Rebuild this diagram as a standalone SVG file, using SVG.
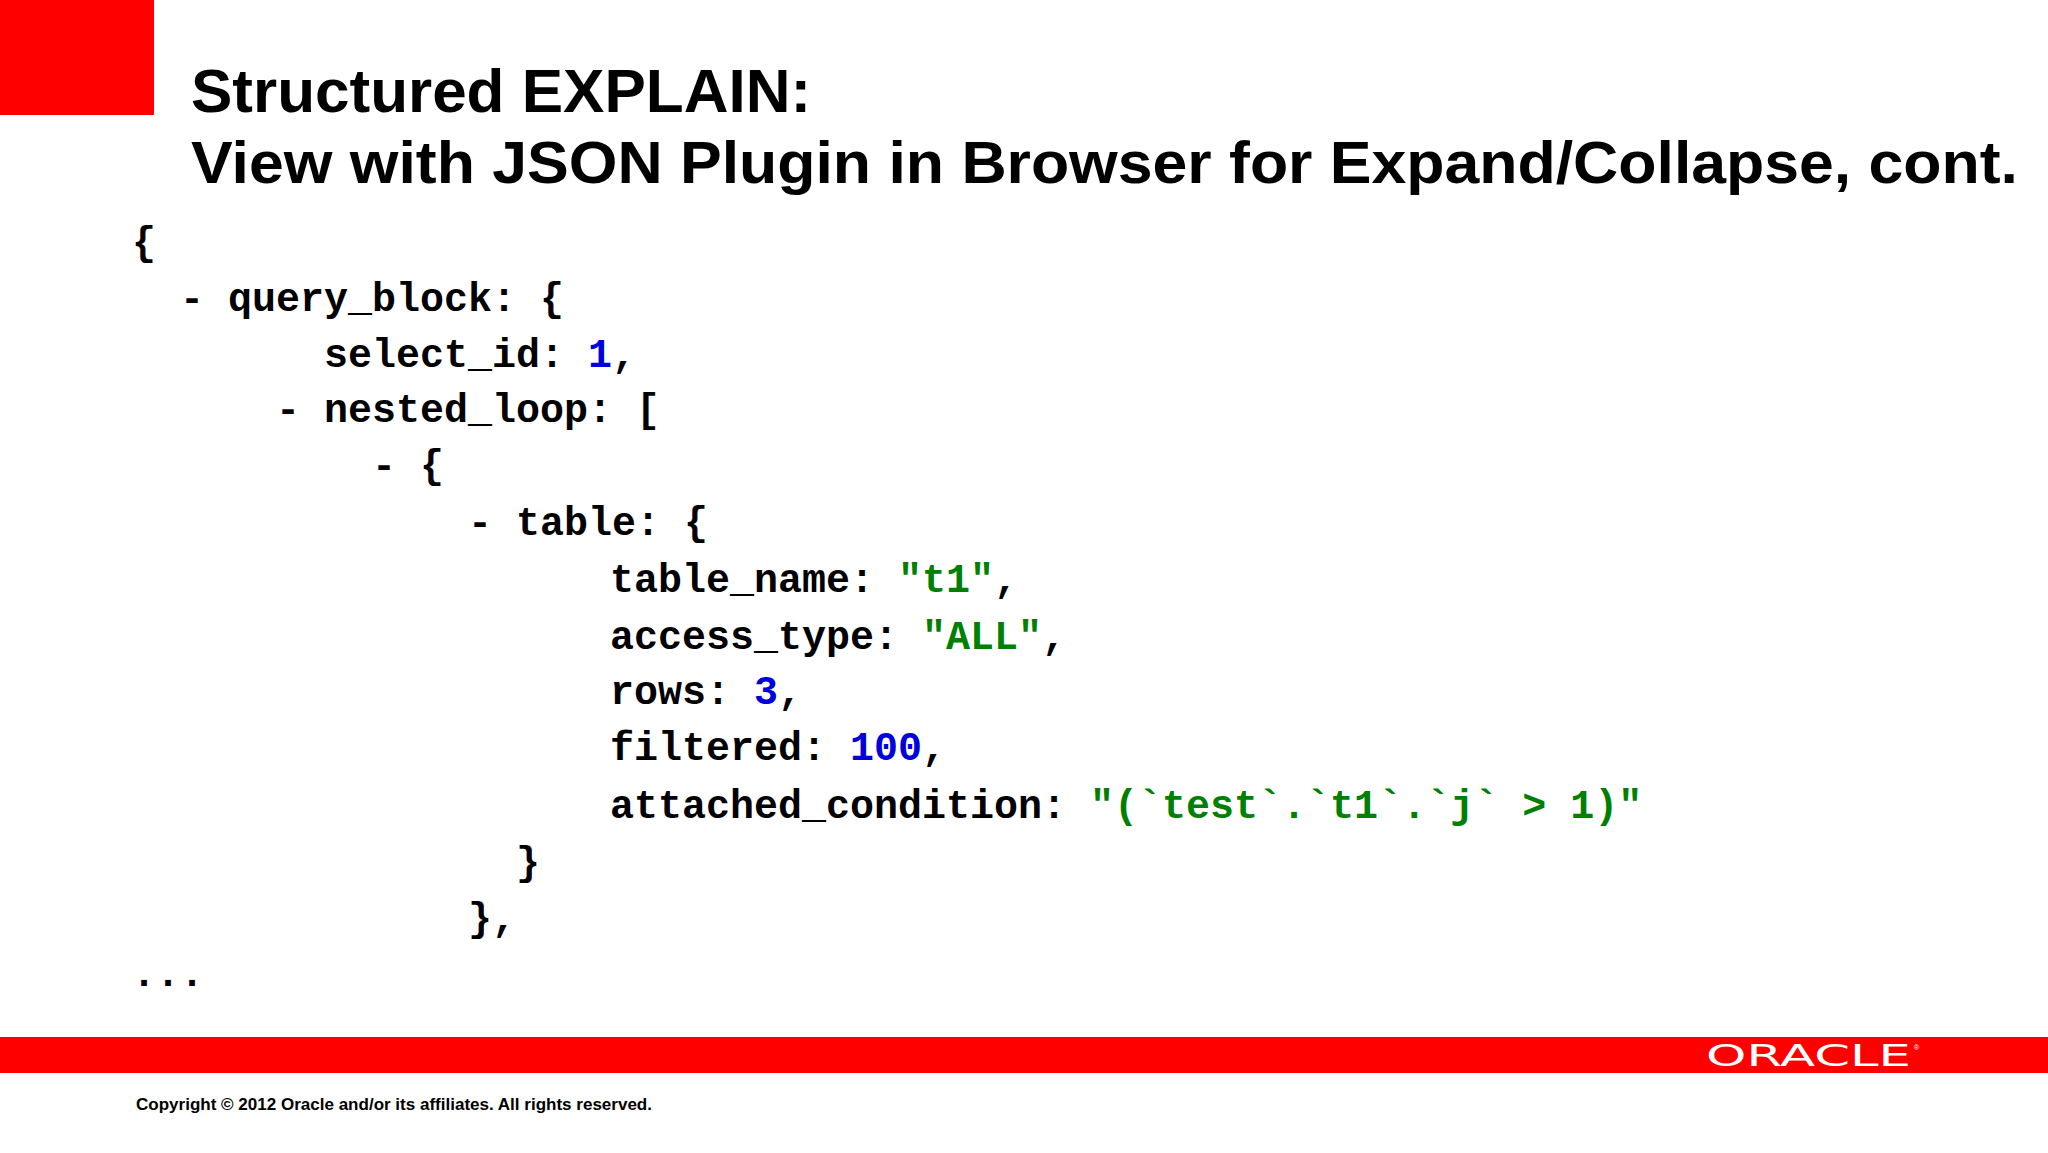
<svg xmlns="http://www.w3.org/2000/svg" width="2048" height="1153" viewBox="0 0 2048 1153">
<style>
.t{font-family:"Liberation Sans",Arial,sans-serif;font-weight:bold;fill:#000}
.c{font-family:"Liberation Mono","Courier New",monospace;font-weight:bold;font-size:40px;fill:#000}
.b{fill:#0000DD}.g{fill:#008000}
</style>
<rect width="2048" height="1153" fill="#fff"/>
<rect x="0" y="0" width="154" height="115" fill="#FF0000"/>
<g id="title">
<text class="t" x="191" y="112" font-size="62">Structured EXPLAIN:</text>
<text class="t" x="191" y="183" font-size="60" textLength="1827" lengthAdjust="spacingAndGlyphs">View with JSON Plugin in Browser for Expand/Collapse, cont.</text>
</g>
<g id="code">
<text class="c" x="132" y="255">{</text>
<text class="c" x="180" y="311">- query_block: {</text>
<text class="c" x="324" y="367">select_id: <tspan class="b">1</tspan>,</text>
<text class="c" x="276" y="422">- nested_loop: [</text>
<text class="c" x="372" y="478">- {</text>
<text class="c" x="468" y="535">- table: {</text>
<text class="c" x="610" y="592">table_name: <tspan class="g">"t1"</tspan>,</text>
<text class="c" x="610" y="649">access_type: <tspan class="g">"ALL"</tspan>,</text>
<text class="c" x="610" y="704">rows: <tspan class="b">3</tspan>,</text>
<text class="c" x="610" y="760">filtered: <tspan class="b">100</tspan>,</text>
<text class="c" x="610" y="818">attached_condition: <tspan class="g">"(`test`.`t1`.`j` &gt; 1)"</tspan></text>
<text class="c" x="516" y="875">}</text>
<text class="c" x="468" y="931">},</text>
<text class="c" x="132" y="986">...</text>
</g>
<g id="footer">
<rect x="0" y="1037" width="2048" height="36" fill="#FF0000"/>
<text x="1706" y="1066" font-family="'DejaVu Sans',sans-serif" font-size="30" fill="#fff" textLength="205" lengthAdjust="spacingAndGlyphs">ORACLE</text>
<text x="1914" y="1050" font-family="'Liberation Sans',sans-serif" font-size="7" fill="#fff">®</text>
<text class="t" x="136" y="1110" font-size="16" textLength="516" lengthAdjust="spacingAndGlyphs">Copyright © 2012 Oracle and/or its affiliates. All rights reserved.</text>
</g>
</svg>
